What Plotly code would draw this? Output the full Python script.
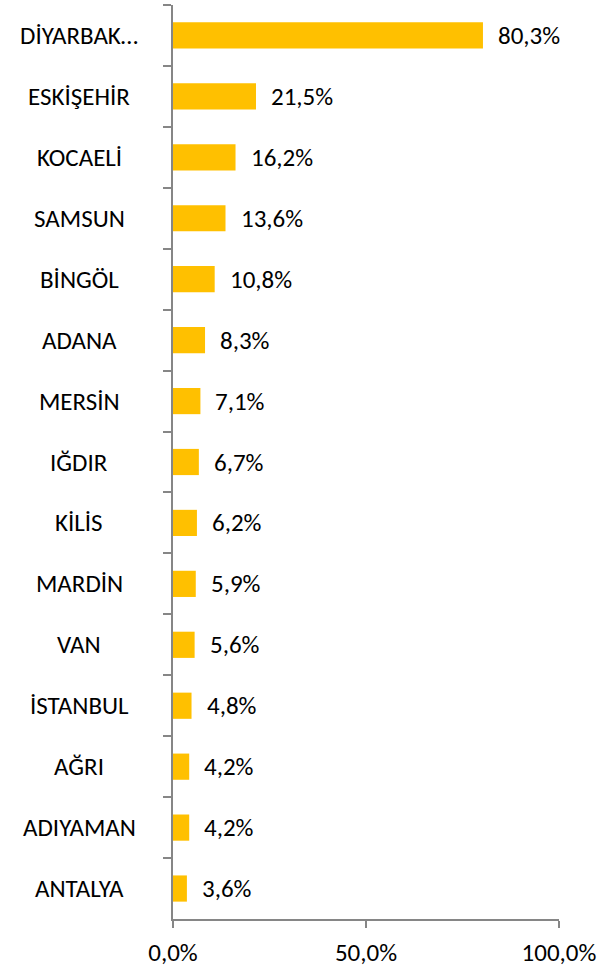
import plotly.graph_objects as go

categories = ["DİYARBAK…", "ESKİŞEHİR", "KOCAELİ", "SAMSUN", "BİNGÖL", "ADANA", "MERSİN",
              "IĞDIR", "KİLİS", "MARDİN", "VAN", "İSTANBUL", "AĞRI", "ADIYAMAN", "ANTALYA"]
values = [80.3, 21.5, 16.2, 13.6, 10.8, 8.3, 7.1, 6.7, 6.2, 5.9, 5.6, 4.8, 4.2, 4.2, 3.6]
x_tickvals = [0, 50, 100]
x_ticktext = ["0,0%", "50,0%", "100,0%"]

FONT = "Carlito, Lato, sans-serif"
FS = 25
AXIS = "#868686"

fig = go.Figure(go.Bar(
    x=values, y=categories, orientation="h",
    marker=dict(color="#FFC000", line=dict(width=0)),
    hoverinfo="skip",
))

annotations = []
for c, v in zip(categories, values):
    annotations.append(dict(x=v, y=c, xref="x", yref="y", text=f"{v:.1f}".replace(".", ",") + "%",
                            showarrow=False, xanchor="left", xshift=13,
                            font=dict(family=FONT, size=FS, color="#000000")))
    annotations.append(dict(x=-0.2435, y=c, xref="paper", yref="y", text=c,
                            showarrow=False, xanchor="center",
                            font=dict(family=FONT, size=FS, color="#000000")))

fig.update_layout(
    width=605, height=968,
    margin=dict(l=173, r=46, t=5, b=49, autoexpand=False),
    paper_bgcolor="white", plot_bgcolor="white",
    bargap=0.57,
    showlegend=False,
    font=dict(family=FONT, size=FS, color="#000000"),
    annotations=annotations,
    xaxis=dict(range=[0, 100], tickvals=x_tickvals, ticktext=x_ticktext, automargin=False,
               showgrid=False, zeroline=False, showline=True, linecolor=AXIS, linewidth=1.5,
               ticks="outside", ticklen=7, tickcolor=AXIS, tickwidth=1.5, ticklabelstandoff=3,
               tickfont=dict(family=FONT, size=FS, color="#000000"), fixedrange=True),
    yaxis=dict(autorange="reversed", type="category", showgrid=False, zeroline=False,
               showline=True, linecolor=AXIS, linewidth=1.5, automargin=False,
               ticks="outside", ticklen=8, tickcolor=AXIS, tickwidth=1.5,
               tickson="boundaries", showticklabels=False, fixedrange=True),
)

fig.write_html("out.html", config={"displayModeBar": False},
               post_script="document.body.style.margin='0';document.body.style.overflow='hidden';")
